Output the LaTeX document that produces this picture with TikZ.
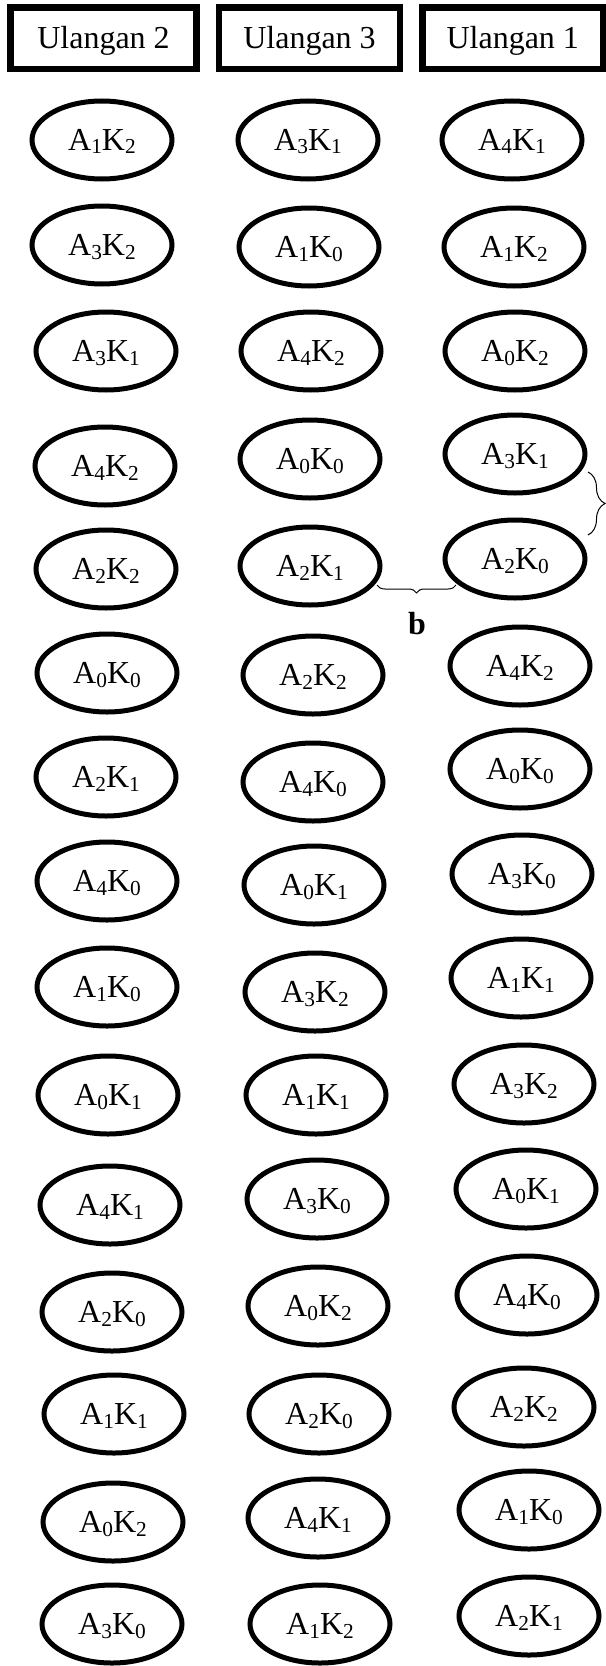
\documentclass[tikz,border=0pt]{standalone}
\usepackage{fontspec}
\setmainfont{Liberation Serif}
\usetikzlibrary{shapes.geometric,decorations.pathreplacing}
\newcommand\sbs[1]{\raisebox{-2.5pt}{\fontsize{16}{16}\selectfont #1}}
\newcommand\ak[2]{A\sbs{#1}K\sbs{#2}}
\begin{document}
\begin{tikzpicture}[x=0.75pt,y=-0.75pt,
  hdr/.style={draw, line width=4.9pt, minimum height=46.3pt, inner sep=0pt,
    font=\fontsize{24}{28}\selectfont, text height=16pt, text depth=0pt},
  cell/.style={ellipse, draw, line width=3.75pt, minimum width=105pt,
    minimum height=58.5pt, inner sep=0pt,
    font=\fontsize{24}{28}\selectfont, text height=16pt, text depth=0pt},
  brc/.style={decorate, line width=0.75pt},
  lbl/.style={font=\fontsize{24}{28}\selectfont\bfseries, inner sep=0pt, text depth=0pt}]
\useasboundingbox (0,0) rectangle (606,1666);
% headers
\node[hdr, minimum width=139.2pt] (h1) at (103.5,38.2) {Ulangan 2};
\node[hdr, minimum width=135.75pt] (h2) at (309.5,38.2) {Ulangan 3};
\node[hdr, minimum width=135.4pt] (h3) at (512.75,38.2) {Ulangan 1};
% column 1 (Ulangan 2)
\node[cell] (a1) at (102,140) {\ak12};
\node[cell] (a2) at (102,245) {\ak32};
\node[cell] (a3) at (106,351) {\ak31};
\node[cell] (a4) at (105,466) {\ak42};
\node[cell] (a5) at (106,569) {\ak22};
\node[cell] (a6) at (107,673) {\ak00};
\node[cell] (a7) at (106,777) {\ak21};
\node[cell] (a8) at (107,881) {\ak40};
\node[cell] (a9) at (107,987) {\ak10};
\node[cell] (a10) at (108,1095) {\ak01};
\node[cell] (a11) at (110,1205) {\ak41};
\node[cell] (a12) at (112,1312) {\ak20};
\node[cell] (a13) at (114,1414) {\ak11};
\node[cell] (a14) at (113,1522) {\ak02};
\node[cell] (a15) at (112,1624) {\ak30};
% column 2 (Ulangan 3)
\node[cell] (b1) at (308,140) {\ak31};
\node[cell] (b2) at (309,247) {\ak10};
\node[cell] (b3) at (311,351) {\ak42};
\node[cell] (b4) at (310,459) {\ak00};
\node[cell] (b5) at (310,566) {\ak21};
\node[cell] (b6) at (313,675) {\ak22};
\node[cell] (b7) at (313,782) {\ak40};
\node[cell] (b8) at (314,885) {\ak01};
\node[cell] (b9) at (315,992) {\ak32};
\node[cell] (b10) at (316,1095) {\ak11};
\node[cell] (b11) at (317,1199) {\ak30};
\node[cell] (b12) at (318,1306) {\ak02};
\node[cell] (b13) at (319,1414) {\ak20};
\node[cell] (b14) at (318,1518) {\ak41};
\node[cell] (b15) at (320,1624) {\ak12};
% column 3 (Ulangan 1)
\node[cell] (c1) at (512,140) {\ak41};
\node[cell] (c2) at (514,247) {\ak12};
\node[cell] (c3) at (515,351) {\ak02};
\node[cell] (c4) at (515,454) {\ak31};
\node[cell] (c5) at (515,559) {\ak20};
\node[cell] (c6) at (520,666) {\ak42};
\node[cell] (c7) at (520,769) {\ak00};
\node[cell] (c8) at (522,874) {\ak30};
\node[cell] (c9) at (521,978) {\ak11};
\node[cell] (c10) at (524,1084) {\ak32};
\node[cell] (c11) at (526,1189) {\ak01};
\node[cell] (c12) at (527,1295) {\ak40};
\node[cell] (c13) at (524,1407) {\ak22};
\node[cell] (c14) at (529,1510) {\ak10};
\node[cell] (c15) at (529,1616) {\ak21};
% braces
\coordinate (hb1) at (377,585);
\coordinate (hb2) at (456,585);
\draw[brc, decoration={brace, mirror, amplitude=6pt}] (hb1) -- (hb2);
\node[lbl] (b) at (417,623) {b};
\coordinate (vb1) at (588,472);
\coordinate (vb2) at (588,535);
\draw[brc, decoration={brace, amplitude=12.75pt}] (vb1) -- (vb2);
\end{tikzpicture}
\end{document}
